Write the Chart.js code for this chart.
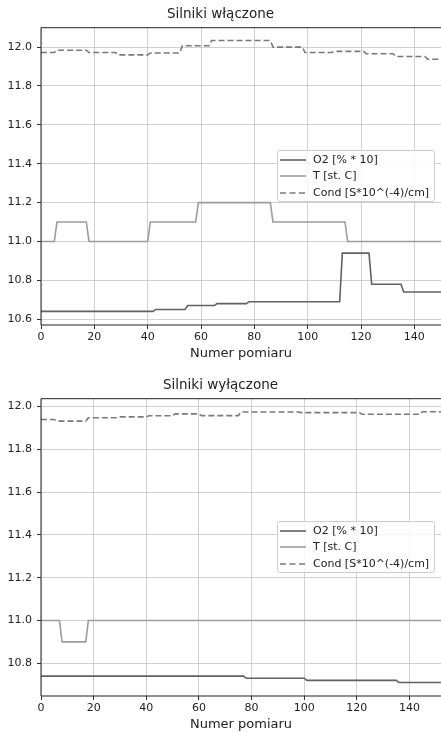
<!DOCTYPE html>
<html lang="pl">
<head>
  <meta charset="UTF-8">
  <title>Silniki - pomiary</title>
  <script src="https://cdn.jsdelivr.net/npm/chart.js"></script>
  <style>
    body { margin: 0; width: 441px; height: 733px; overflow: hidden; background: #fff; position: relative; font-family: 'DejaVu Sans', sans-serif; }
    .wykres { position: absolute; left: 0; width: 441px; height: 366px; }
    .legend { position: absolute; left: 277px; width: 158px; height: 52px; background: rgba(255,255,255,0.8);
              border: 1px solid #cccccc; border-radius: 3px; box-sizing: border-box; }
    .legend .row { position: absolute; left: 0; height: 16px; width: 100%; }
    .legend svg { position: absolute; left: 2px; top: 6px; }
    .legend span { position: absolute; left: 35px; top: 0; font-size: 11px; line-height: 16px; color: #222; white-space: nowrap; }
  </style>
</head>
<body>
  <div class="wykres" style="top:0"><canvas id="wlaczone" width="441" height="366"></canvas></div>
  <div class="wykres" style="top:371px"><canvas id="wylaczone" width="441" height="366"></canvas></div>

  <script>
    // osie
    const xTicks = [0, 20, 40, 60, 80, 100, 120, 140];
    const yTicksOn = [10.6, 10.8, 11.0, 11.2, 11.4, 11.6, 11.8, 12.0];
    const yTicksOff = [10.8, 11.0, 11.2, 11.4, 11.6, 11.8, 12.0];

    // Silniki włączone (punkty zmian poziomu)
    const onO2X = [0, 42, 43, 54, 55, 65, 66, 77, 78, 112, 113, 123, 124, 135, 136, 150];
    const onO2Y = [10.64, 10.64, 10.65, 10.65, 10.67, 10.67, 10.68, 10.68, 10.69, 10.69, 10.94, 10.94, 10.78, 10.78, 10.74, 10.74];
    const onTX = [0, 5, 6, 17, 18, 40, 41, 58, 59, 86, 87, 114, 115, 150];
    const onTY = [11.0, 11.0, 11.1, 11.1, 11.0, 11.0, 11.1, 11.1, 11.2, 11.2, 11.1, 11.1, 11.0, 11.0];
    const onCondX = [0, 5, 6, 17, 18, 28, 29, 40, 41, 52, 53, 63, 64, 86, 87, 98, 99, 109, 110, 121, 122, 132, 133, 144, 145, 150];
    const onCondY = [11.972, 11.972, 11.984, 11.984, 11.972, 11.972, 11.96, 11.96, 11.97, 11.97, 12.007, 12.007, 12.034, 12.034,
                     12.0, 12.0, 11.972, 11.972, 11.978, 11.978, 11.966, 11.966, 11.952, 11.952, 11.938, 11.938];

    // Silniki wyłączone
    const offO2X = [0, 77, 78, 100, 101, 135, 136, 152];
    const offO2Y = [10.74, 10.74, 10.73, 10.73, 10.72, 10.72, 10.71, 10.71];
    const offTX = [0, 7, 8, 17, 18, 152];
    const offTY = [11.0, 11.0, 10.9, 10.9, 11.0, 11.0];
    const offCondX = [0, 5, 6, 17, 18, 29, 30, 40, 41, 50, 51, 60, 61, 75, 76, 98, 99, 121, 122, 144, 145, 152];
    const offCondY = [11.94, 11.94, 11.932, 11.932, 11.948, 11.948, 11.952, 11.952, 11.957, 11.957, 11.966, 11.966,
                      11.958, 11.958, 11.975, 11.975, 11.972, 11.972, 11.964, 11.964, 11.976, 11.976];

    const font = 'DejaVu Sans';

    function punkty(xs, ys) {
      return xs.map((x, i) => ({ x: x, y: ys[i] }));
    }

    // ramka wykresu (lewa, gorna, dolna krawedz)
    const ramka = {
      id: 'ramka',
      afterDatasetsDraw(chart) {
        const { ctx, chartArea: a } = chart;
        ctx.save();
        ctx.strokeStyle = '#222';
        ctx.lineWidth = 1;
        ctx.beginPath();
        ctx.moveTo(a.right, a.top);
        ctx.lineTo(a.left, a.top);
        ctx.lineTo(a.left, a.bottom);
        ctx.lineTo(a.right, a.bottom);
        ctx.stroke();
        ctx.restore();
      }
    };

    function rysuj(id, tytul, o2, t, cond, xMax, yMin, yMax, yTicks, legendTop) {
      const datasets = [
        { label: 'O2 [% * 10]', data: o2, borderColor: '#616161', borderWidth: 1.6 },
        { label: 'T [st. C]', data: t, borderColor: '#9c9c9c', borderWidth: 1.6 },
        { label: 'Cond [S*10^(-4)/cm]', data: cond, borderColor: '#7a7a7a', borderWidth: 1.6, borderDash: [6, 3] }
      ];
      datasets.forEach(d => { d.pointRadius = 0; d.fill = false; d.tension = 0; });

      const chart = new Chart(document.getElementById(id), {
        type: 'line',
        data: { datasets: datasets },
        options: {
          responsive: false,
          animation: false,
          devicePixelRatio: 1,
          layout: { padding: 0 },
          plugins: {
            legend: { display: false },
            tooltip: { enabled: false },
            title: { display: true, text: tytul, color: '#222', font: { family: font, size: 13.5, weight: 'normal' },
                     padding: { top: 6, bottom: 5.5 } }
          },
          scales: {
            x: {
              type: 'linear', min: 0, max: xMax,
              afterBuildTicks: s => { s.ticks = xTicks.map(v => ({ value: v })); },
              afterFit: s => { s.height = 41; },
              ticks: { color: '#222', font: { family: font, size: 11 }, padding: 2, maxRotation: 0 },
              grid: { color: '#c4c4c4', lineWidth: 0.8, tickColor: '#333', tickLength: 4, tickWidth: 1 },
              border: { display: false },
              title: { display: true, text: 'Numer pomiaru', color: '#222', font: { family: font, size: 13 },
                       padding: { top: 0, bottom: 5 } }
            },
            y: {
              type: 'linear', min: yMin, max: yMax,
              afterBuildTicks: s => { s.ticks = yTicks.map(v => ({ value: v })); },
              afterFit: s => { s.width = 41; },
              ticks: { color: '#222', font: { family: font, size: 11 }, padding: 5, callback: v => v.toFixed(1) },
              grid: { color: '#c4c4c4', lineWidth: 0.8, tickColor: '#333', tickLength: 4, tickWidth: 1 },
              border: { display: false }
            }
          }
        },
        plugins: [ramka]
      });

      // legenda w obszarze wykresu
      const box = document.createElement('div');
      box.className = 'legend';
      box.style.top = legendTop + 'px';
      chart.data.datasets.forEach((ds, i) => {
        const row = document.createElement('div');
        row.className = 'row';
        row.style.top = (1 + i * 16.3) + 'px';
        const dash = ds.borderDash ? ' stroke-dasharray="6,3.5"' : '';
        row.innerHTML = '<svg width="26" height="4"><line x1="0" y1="2" x2="26" y2="2" stroke="' + ds.borderColor +
          '" stroke-width="1.6"' + dash + '/></svg><span></span>';
        row.querySelector('span').textContent = ds.label;
        box.appendChild(row);
      });
      document.body.appendChild(box);
      return chart;
    }

    rysuj('wlaczone', 'Silniki włączone', punkty(onO2X, onO2Y), punkty(onTX, onTY), punkty(onCondX, onCondY),
          150, 10.57, 12.1, yTicksOn, 150);
    rysuj('wylaczone', 'Silniki wyłączone', punkty(offO2X, offO2Y), punkty(offTX, offTY), punkty(offCondX, offCondY),
          152, 10.647, 12.037, yTicksOff, 521);
  </script>
</body>
</html>
